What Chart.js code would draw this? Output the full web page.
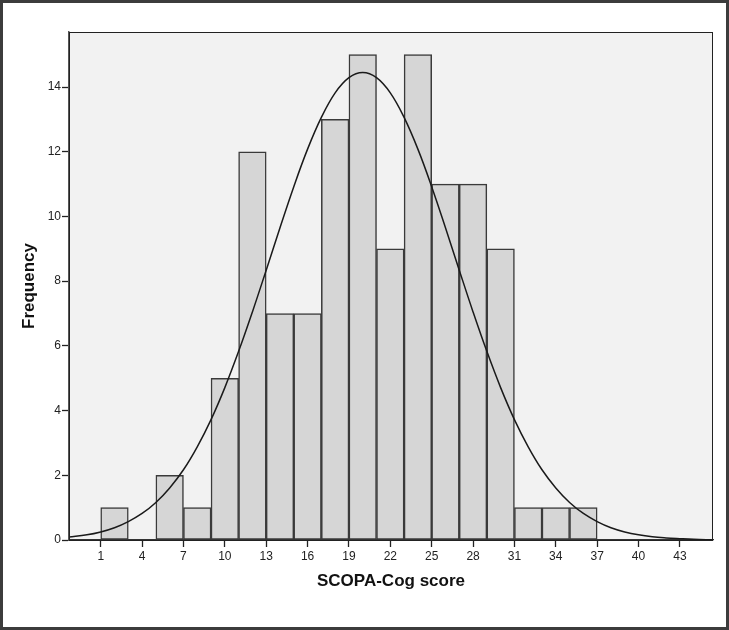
<!DOCTYPE html>
<html>
<head>
<meta charset="utf-8">
<script src="https://cdn.jsdelivr.net/npm/chart.js@4.4.1/dist/chart.umd.min.js"></script>
<style>
  html, body { margin: 0; padding: 0; background: #fff; }
  #wrap { width: 729px; height: 630px; }
</style>
</head>
<body>
<div id="wrap"><canvas id="histChart" width="729" height="630"></canvas></div>
<script>
// histogram bins (start of each 2-point bin) and their counts
const binStarts = [1, 3, 5, 7, 9, 11, 13, 15, 17, 19, 21, 23, 25, 27, 29, 31, 33, 35];
const counts    = [1, 0, 2, 1, 5, 12, 7, 7, 13, 15, 9, 15, 11, 11, 9, 1, 1, 1];
const binWidth = 2;

// normal curve
const curveX = [-1.3, 0, 1, 2, 3, 4, 5, 6, 7, 8, 9, 10, 11, 12, 13, 14, 15, 16, 17, 18, 19, 20,
                21, 22, 23, 24, 25, 26, 27, 28, 29, 30, 31, 32, 33, 34, 35, 36, 37, 38, 39, 40,
                41, 42, 43, 44, 45, 45.4];
const curveY = [0.09, 0.16, 0.25, 0.38, 0.57, 0.82, 1.16, 1.61, 2.17, 2.88, 3.72, 4.71, 5.83, 7.05, 8.34, 9.65, 10.92, 12.08, 13.06, 13.82, 14.29, 14.45,
                14.29, 13.82, 13.06, 12.08, 10.92, 9.65, 8.34, 7.05, 5.83, 4.71, 3.72, 2.88, 2.17, 1.61, 1.16, 0.82, 0.57, 0.38, 0.25, 0.16,
                0.10, 0.064, 0.04, 0.02, 0.01, 0.01];

// axis ticks
const xTicks = [1, 4, 7, 10, 13, 16, 19, 22, 25, 28, 31, 34, 37, 40, 43];
const yTicks = [0, 2, 4, 6, 8, 10, 12, 14];

const barData = binStarts.map((b, i) => ({ x: b + binWidth / 2, y: counts[i] }));
const curveData = curveX.map((x, i) => ({ x: x, y: curveY[i] }));

const FONT = '"Liberation Sans", Arial, Helvetica, sans-serif';

// grey plot background + frame round the plot and the whole picture
const framePlugin = {
  id: 'framePlugin',
  beforeDraw(chart) {
    const { ctx, chartArea: a } = chart;
    ctx.save();
    ctx.fillStyle = '#f2f2f2';
    ctx.fillRect(a.left, a.top, a.right - a.left, a.bottom - a.top);
    ctx.restore();
  },
  afterDraw(chart) {
    const { ctx, chartArea: a } = chart;
    ctx.save();
    ctx.strokeStyle = '#222';
    ctx.lineWidth = 1;
    ctx.strokeRect(a.left + 0.5, a.top + 0.5, a.right - a.left - 1, a.bottom - a.top);
    ctx.strokeStyle = '#3c3c3c';
    ctx.lineWidth = 3;
    ctx.strokeRect(1.5, 1.5, chart.width - 3, chart.height - 3);
    ctx.restore();
  }
};

const ctx = document.getElementById('histChart').getContext('2d');
const myChart = new Chart(ctx, {
  type: 'bar',
  data: {
    datasets: [{
      type: 'line',
      label: 'Normal',
      data: curveData,
      borderColor: '#1a1a1a',
      borderWidth: 1.5,
      pointRadius: 0,
      tension: 0.4,
      fill: false,
      order: 0
    }, {
      type: 'bar',
      label: 'Frequency',
      data: barData,
      backgroundColor: '#d6d6d6',
      borderColor: '#3a3a3a',
      borderWidth: 1.5,
      borderSkipped: false,
      barPercentage: 1,
      categoryPercentage: 1,
      order: 1
    }]
  },
  options: {
    responsive: false,
    animation: false,
    layout: { padding: { top: 32, right: 16, left: 0, bottom: 0 } },
    plugins: {
      legend: { display: false },
      tooltip: { enabled: false }
    },
    scales: {
      x: {
        type: 'linear',
        min: -1.3,
        max: 45.4,
        offset: false,
        afterBuildTicks: (scale) => { scale.ticks = xTicks.map(v => ({ value: v })); },
        afterFit: (scale) => { scale.height = 90; },
        grid: {
          offset: false,
          drawOnChartArea: false,
          drawTicks: true,
          tickLength: 7,
          color: '#222',
          tickWidth: 1.3
        },
        border: { color: '#333', width: 1.3 },
        ticks: {
          autoSkip: false,
          maxRotation: 0,
          padding: 2,
          color: '#222',
          font: { family: FONT, size: 12 }
        },
        title: {
          display: true,
          text: 'SCOPA-Cog score',
          color: '#111',
          font: { family: FONT, size: 17, weight: 'bold' },
          padding: { top: 0, bottom: 38 }
        }
      },
      y: {
        min: 0,
        max: 15.7,
        afterBuildTicks: (scale) => { scale.ticks = yTicks.map(v => ({ value: v })); },
        afterFit: (scale) => { scale.width = 69; },
        grid: {
          drawOnChartArea: false,
          drawTicks: true,
          tickLength: 7,
          color: '#222',
          tickWidth: 1.3
        },
        border: { color: '#555', width: 1.5 },
        ticks: {
          padding: 1,
          color: '#222',
          font: { family: FONT, size: 12 }
        },
        title: {
          display: true,
          text: 'Frequency',
          color: '#111',
          font: { family: FONT, size: 17, weight: 'bold' },
          padding: { top: 19, bottom: 0 }
        }
      }
    }
  },
  plugins: [framePlugin]
});
</script>
</body>
</html>
